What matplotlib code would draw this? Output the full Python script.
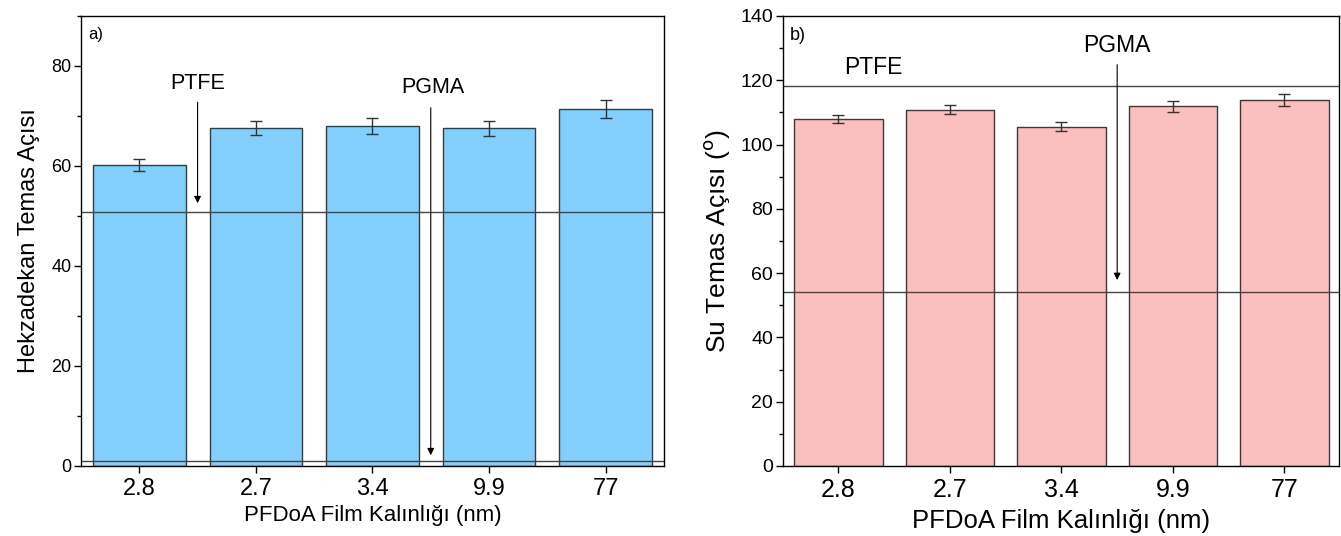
import matplotlib.pyplot as plt
import numpy as np
from matplotlib.ticker import MultipleLocator

plt.rcParams['font.family'] = ['Liberation Sans', 'DejaVu Sans']

labels = ['2.8', '2.7', '3.4', '9.9', '77']
hexa = [60.2, 67.5, 68.0, 67.5, 71.3]
hexa_err = [1.2, 1.4, 1.6, 1.5, 1.8]
water = [107.9, 110.9, 105.6, 111.9, 113.9]
water_err = [1.2, 1.5, 1.5, 1.8, 1.8]

hexa_ptfe, hexa_pgma = 50.8, 0.9
water_ptfe, water_pgma = 118.3, 54.1

x = np.arange(len(labels))
fig = plt.figure(figsize=(13.41, 5.36), dpi=100)
ax1 = fig.add_axes([0.0604, 0.1306, 0.4347, 0.8396])
ax2 = fig.add_axes([0.5837, 0.1306, 0.4148, 0.8396])

edge = '#3a3a3a'


def style(ax, ytick, xtick, xlab, pad):
    ax.tick_params(axis='both', direction='out', length=5, width=1)
    ax.tick_params(axis='y', pad=2, labelsize=ytick)
    ax.tick_params(axis='y', which='minor', direction='out', length=3, width=1)
    ax.yaxis.set_minor_locator(MultipleLocator(10))
    ax.set_xticks(x)
    ax.set_xticklabels(labels, fontsize=xtick)
    ax.set_xlabel('PFDoA Film Kalınlığı (nm)', fontsize=xlab, labelpad=pad)
    for s in ax.spines.values():
        s.set_linewidth(1)


# a) hexadecane
ax1.bar(x, hexa, width=0.795, color='#82CFFD', edgecolor=edge, linewidth=1,
        yerr=hexa_err, error_kw=dict(ecolor='#333333', elinewidth=1, capsize=4, capthick=1))
ax1.axhline(hexa_ptfe, color='#444444', lw=1)
ax1.axhline(hexa_pgma, color='#444444', lw=1)
ax1.set_xlim(-0.5, 4.5)
ax1.set_ylim(0, 90)
ax1.yaxis.set_major_locator(MultipleLocator(20))
style(ax1, 13, 17, 16, 4)
ax1.set_ylabel('Hekzadekan Temas Açısı', fontsize=17, labelpad=8)
ax1.text(0.012, 0.975, 'a)', transform=ax1.transAxes, fontsize=12, va='top')
ax1.annotate('', xy=(0.5, 52.0), xytext=(0.5, 73.3),
             arrowprops=dict(arrowstyle='-|>', color='black', lw=0.8, mutation_scale=10))
ax1.text(0.5, 74.3, 'PTFE', ha='center', va='bottom', fontsize=15.5)
ax1.annotate('', xy=(2.5, 1.6), xytext=(2.5, 72.2),
             arrowprops=dict(arrowstyle='-|>', color='black', lw=0.8, mutation_scale=10))
ax1.text(2.52, 73.6, 'PGMA', ha='center', va='bottom', fontsize=15.5)

# b) water
ax2.bar(x, water, width=0.795, color='#FBBFBF', edgecolor=edge, linewidth=1,
        yerr=water_err, error_kw=dict(ecolor='#333333', elinewidth=1, capsize=4, capthick=1))
ax2.axhline(water_ptfe, color='#444444', lw=1)
ax2.axhline(water_pgma, color='#444444', lw=1)
ax2.set_xlim(-0.5, 4.49)
ax2.set_ylim(0, 140)
ax2.yaxis.set_major_locator(MultipleLocator(20))
style(ax2, 14, 18, 18.5, 5)
ax2.set_ylabel('Su Temas Açısı ($^{\\mathrm{o}}$)', fontsize=19, labelpad=6)
ax2.text(0.012, 0.975, 'b)', transform=ax2.transAxes, fontsize=13, va='top')
ax2.text(0.31, 120.3, 'PTFE', ha='center', va='bottom', fontsize=16.5)
ax2.annotate('', xy=(2.5, 57.0), xytext=(2.5, 125.7),
             arrowprops=dict(arrowstyle='-|>', color='black', lw=0.8, mutation_scale=10))
ax2.text(2.5, 127.3, 'PGMA', ha='center', va='bottom', fontsize=16.5)

fig.savefig('out.png', dpi=100)
